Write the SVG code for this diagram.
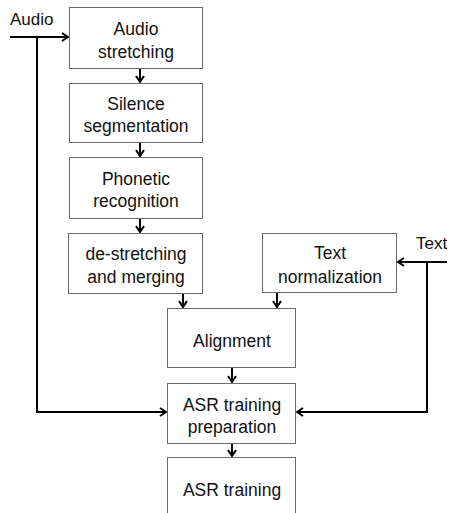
<svg xmlns="http://www.w3.org/2000/svg" width="449" height="513" viewBox="0 0 449 513">
<defs>
<style>
.box{fill:#fff;stroke:#6b6b6b;stroke-width:1}
.t{font-family:"Liberation Sans",Arial,sans-serif;font-size:17.5px;fill:#111;text-anchor:middle}
.lbl{font-family:"Liberation Sans",Arial,sans-serif;font-size:17px;fill:#111}
.c{fill:none;stroke:#000;stroke-width:2}
</style>
<marker id="ah" viewBox="0 0 10 10" refX="9" refY="5" markerWidth="10" markerHeight="10" markerUnits="userSpaceOnUse" orient="auto">
<path d="M3,1 L9,5 L3,9" fill="none" stroke="#000" stroke-width="2"/>
</marker>
</defs>
<rect width="449" height="513" fill="#fff"/>
<g id="connectors">
<path class="c" d="M10,37 H68" marker-end="url(#ah)"/>
<path class="c" d="M37,37 V412 H166" marker-end="url(#ah)"/>
<path class="c" d="M447,262 H398" marker-end="url(#ah)"/>
<path class="c" d="M427,262 V412 H297" marker-end="url(#ah)"/>
<path class="c" d="M140,69 V82" marker-end="url(#ah)"/>
<path class="c" d="M140,143 V156" marker-end="url(#ah)"/>
<path class="c" d="M140,219 V232" marker-end="url(#ah)"/>
<path class="c" d="M183,294 V307" marker-end="url(#ah)"/>
<path class="c" d="M277,293 V307" marker-end="url(#ah)"/>
<path class="c" d="M232,368 V382" marker-end="url(#ah)"/>
<path class="c" d="M232,444 V456" marker-end="url(#ah)"/>
</g>
<g id="label-audio"><text class="lbl" x="10" y="25">Audio</text></g>
<g id="label-text"><text class="lbl" x="416" y="249">Text</text></g>
<g id="audio-stretching">
<rect class="box" x="69.5" y="7.5" width="133" height="61"/>
<text class="t" x="136" y="35">Audio</text>
<text class="t" x="136" y="58">stretching</text>
</g>
<g id="silence-segmentation">
<rect class="box" x="69.5" y="83.5" width="133" height="59"/>
<text class="t" x="136" y="110">Silence</text>
<text class="t" x="136" y="132">segmentation</text>
</g>
<g id="phonetic-recognition">
<rect class="box" x="69.5" y="157.5" width="133" height="61"/>
<text class="t" x="136" y="185">Phonetic</text>
<text class="t" x="136" y="207">recognition</text>
</g>
<g id="de-stretching">
<rect class="box" x="68.5" y="233.5" width="134" height="60"/>
<text class="t" x="136" y="260">de-stretching</text>
<text class="t" x="136" y="283">and merging</text>
</g>
<g id="text-normalization">
<rect class="box" x="262.5" y="233.5" width="134" height="59"/>
<text class="t" x="330" y="259">Text</text>
<text class="t" x="330" y="283">normalization</text>
</g>
<g id="alignment">
<rect class="box" x="167.5" y="308.5" width="128" height="59"/>
<text class="t" x="232" y="347">Alignment</text>
</g>
<g id="asr-training-preparation">
<rect class="box" x="167.5" y="383.5" width="128" height="60"/>
<text class="t" x="232" y="411">ASR training</text>
<text class="t" x="232" y="433">preparation</text>
</g>
<g id="asr-training">
<rect class="box" x="167.5" y="457.5" width="128" height="70"/>
<text class="t" x="232" y="496">ASR training</text>
</g>
</svg>
